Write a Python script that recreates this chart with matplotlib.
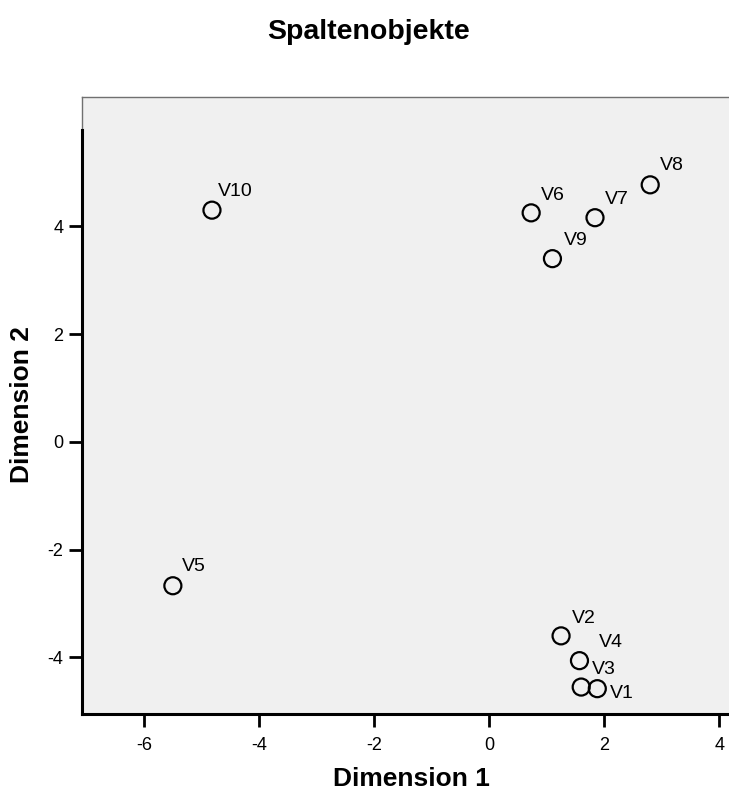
import matplotlib
matplotlib.use("Agg")
import matplotlib.pyplot as plt
from matplotlib.lines import Line2D

plt.rcParams['font.family'] = ['Liberation Sans', 'DejaVu Sans']

labels = ["V1", "V2", "V3", "V4", "V5", "V6", "V7", "V8", "V9", "V10"]
dim1 = [1.88, 1.25, 1.60, 1.57, -5.50, 0.73, 1.84, 2.80, 1.10, -4.82]
dim2 = [-4.58, -3.60, -4.55, -4.06, -2.67, 4.25, 4.16, 4.77, 3.40, 4.30]
xticks = [-6, -4, -2, 0, 2, 4]
yticks = [-4, -2, 0, 2, 4]

# label offsets in pixels (dx, dy), styling only
label_offsets = {
    "V1": (13, -5), "V2": (11, 17), "V3": (11, 18), "V4": (19, 18),
    "V5": (9, 19), "V6": (10, 17), "V7": (10, 18), "V8": (10, 19),
    "V9": (11, 18), "V10": (6, 19),
}

W, H = 729, 790
fig = plt.figure(figsize=(W / 100, H / 100), dpi=100)
left, right, top, bottom = 82, 729, 97, 714
ax = fig.add_axes([left / W, (H - bottom) / H, (right - left) / W, (bottom - top) / H])
ax.set_facecolor('#f0f0f0')

ymin, ymax, yaxis_top = -5.05, 6.40, 5.79
ax.set_xlim(-7.08, 4.17)
ax.set_ylim(ymin, ymax)

ax.scatter(dim1, dim2, s=150, facecolors='none', edgecolors='black', linewidths=1.6, zorder=3)
for lab, x, y in zip(labels, dim1, dim2):
    dx, dy = label_offsets[lab]
    ax.annotate(lab, (x, y), xytext=(dx, dy), textcoords='offset pixels',
                ha='left', va='center', fontsize=14, color='black')

ax.set_xticks(xticks)
ax.set_yticks(yticks)
ax.set_xticklabels([str(v) for v in xticks])
ax.set_yticklabels([str(v) for v in yticks])
ax.tick_params(axis='both', direction='out', length=9.4, width=2, labelsize=13, color='black')
ax.tick_params(axis='x', pad=7)
ax.tick_params(axis='y', pad=4)

ax.spines['right'].set_visible(False)
ax.spines['top'].set_color('#707070')
ax.spines['top'].set_linewidth(1)
ax.spines['left'].set_linewidth(2.2)
ax.spines['bottom'].set_linewidth(2.2)
ax.spines['left'].set_bounds(ymin, yaxis_top)

# thin gray frame segment above the y axis
ax.add_line(Line2D([0, 0], [yaxis_top, ymax], transform=ax.get_yaxis_transform(),
                   color='#707070', linewidth=1, clip_on=False))

fig.text(369 / W, 1 - 32 / H, "Spaltenobjekte", ha='center', va='center',
         fontsize=20.5, fontweight='bold')
fig.text(411 / W, 1 - 779 / H, "Dimension 1", ha='center', va='center',
         fontsize=19, fontweight='bold')
fig.text(22 / W, 1 - 405 / H, "Dimension 2", ha='center', va='center',
         fontsize=19, fontweight='bold', rotation=90)

fig.savefig("out.png", dpi=100)
